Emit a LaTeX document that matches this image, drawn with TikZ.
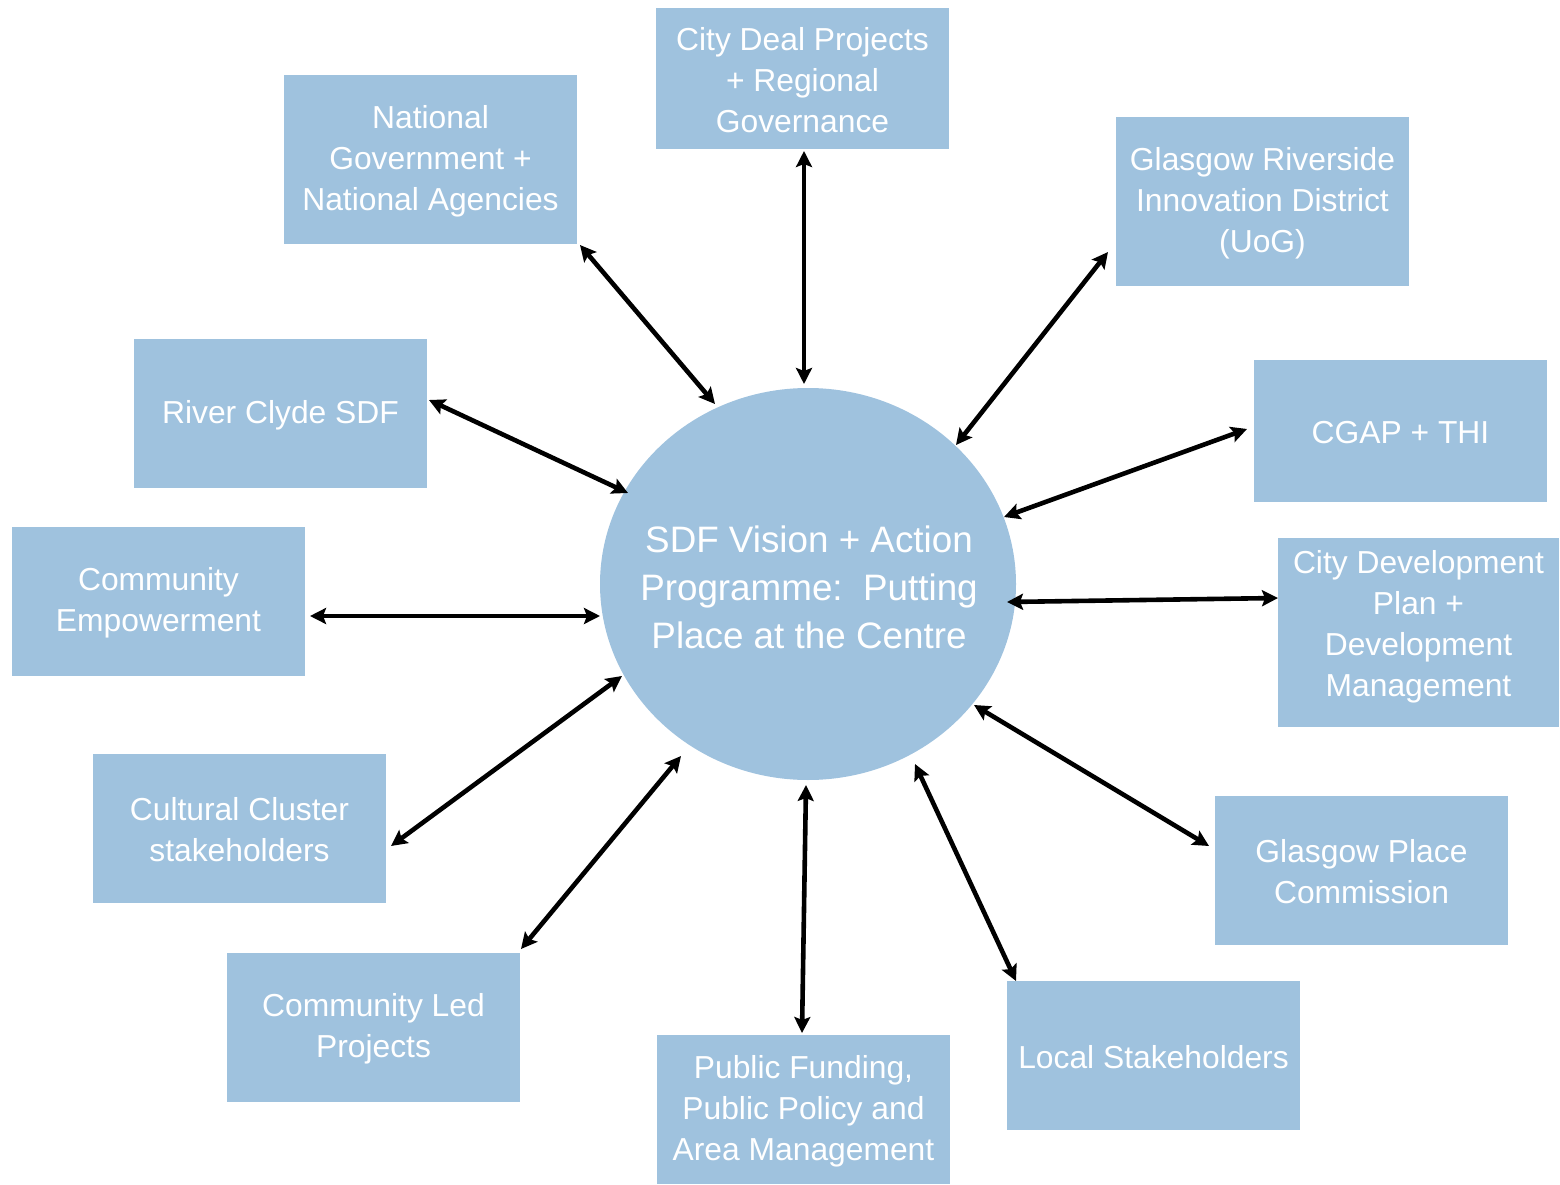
\documentclass[tikz,border=0pt]{standalone}
\usepackage{fontspec}
\setmainfont{Liberation Sans}
\usetikzlibrary{arrows.meta,shapes.geometric}
\definecolor{boxblue}{RGB}{159,194,222}
\tikzset{
  box/.style={rectangle, fill=boxblue, inner sep=0pt, minimum width=293pt, minimum height=149pt},
  boxtext/.style={text=white, align=center, inner sep=0pt, yshift=-1.5pt, font=\fontsize{31.8}{41}\selectfont},
  centretext/.style={text=white, align=center, inner sep=0pt, font=\fontsize{36.8}{48}\selectfont},
  link/.style={line width=4.6pt, {Stealth[length=16pt,width=16pt,inset=3pt]}-{Stealth[length=16pt,width=16pt,inset=3pt]}}
}
\begin{document}
\begin{tikzpicture}[x=1pt,y=-1pt]
\useasboundingbox (0,0) rectangle (1560,1185);
% central ellipse
\node[ellipse, fill=boxblue, inner sep=0pt, minimum width=416pt, minimum height=392pt] (c) at (808,584) {};
\node[centretext] (ct) at (809,587) {SDF Vision + Action\\Programme:\ \ Putting\\Place at the Centre};
% boxes
\node[box, minimum height=141pt] (cd) at (802.5,78.5) {};
\node[boxtext] (cdt) at (802.5,78.5) {City Deal Projects\\+ Regional\\Governance};
\node[box, minimum height=169pt] (ng) at (430.5,159.5) {};
\node[boxtext] (ngt) at (430.5,159.5) {National\\Government +\\National Agencies};
\node[box, minimum height=169pt] (gr) at (1262.5,201.5) {};
\node[boxtext] (grt) at (1262.5,201.5) {Glasgow Riverside\\Innovation District\\(UoG)};
\node[box] (rc) at (280.5,413.5) {};
\node[boxtext] (rct) at (280.5,413.5) {River Clyde SDF};
\node[box, minimum height=142pt] (cg) at (1400.5,431) {};
\node[boxtext] (cgt) at (1400.5,431) {CGAP + THI};
\node[box] (ce) at (158.5,601.5) {};
\node[boxtext] (cet) at (158.5,601.5) {Community\\Empowerment};
\node[box, minimum width=281pt, minimum height=189pt] (dp) at (1418.5,632.5) {};
\node[boxtext] (dpt) at (1418.5,625) {City Development\\Plan +\\Development\\Management};
\node[box] (cc) at (239.5,828.5) {};
\node[boxtext] (cct) at (239.5,828.5) {Cultural Cluster\\stakeholders};
\node[box] (gp) at (1361.5,870.5) {};
\node[boxtext] (gpt) at (1361.5,870.5) {Glasgow Place\\Commission};
\node[box] (cl) at (373.5,1027.5) {};
\node[boxtext] (clt) at (373.5,1027.5) {Community Led\\Projects};
\node[box] (ls) at (1153.5,1055.5) {};
\node[boxtext] (lst) at (1153.5,1055.5) {Local Stakeholders};
\node[box] (pf) at (803.5,1109.5) {};
\node[boxtext] (pft) at (803.5,1109.5) {Public Funding,\\Public Policy and\\Area Management};
% connector end points
\coordinate (cdA) at (804,151);  \coordinate (cdB) at (804,384);
\coordinate (ngA) at (580,245);  \coordinate (ngB) at (715,404);
\coordinate (grA) at (1108,252); \coordinate (grB) at (956,445);
\coordinate (rcA) at (429,400);  \coordinate (rcB) at (628,493);
\coordinate (cgA) at (1247,429); \coordinate (cgB) at (1004,517);
\coordinate (ceA) at (310,616);  \coordinate (ceB) at (600,616);
\coordinate (dpA) at (1278,598); \coordinate (dpB) at (1007,602);
\coordinate (ccA) at (391,846);  \coordinate (ccB) at (622,676);
\coordinate (gpA) at (1209,846); \coordinate (gpB) at (974,705);
\coordinate (clA) at (521,949);  \coordinate (clB) at (681,756);
\coordinate (lsA) at (1016,981); \coordinate (lsB) at (915,764);
\coordinate (pfA) at (802,1033); \coordinate (pfB) at (806,785);
% connectors
\foreach \n in {cd,ng,gr,rc,cg,ce,dp,cc,gp,cl,ls,pf}{
  \draw[link] (\n A) -- (\n B);
}
\end{tikzpicture}
\end{document}
